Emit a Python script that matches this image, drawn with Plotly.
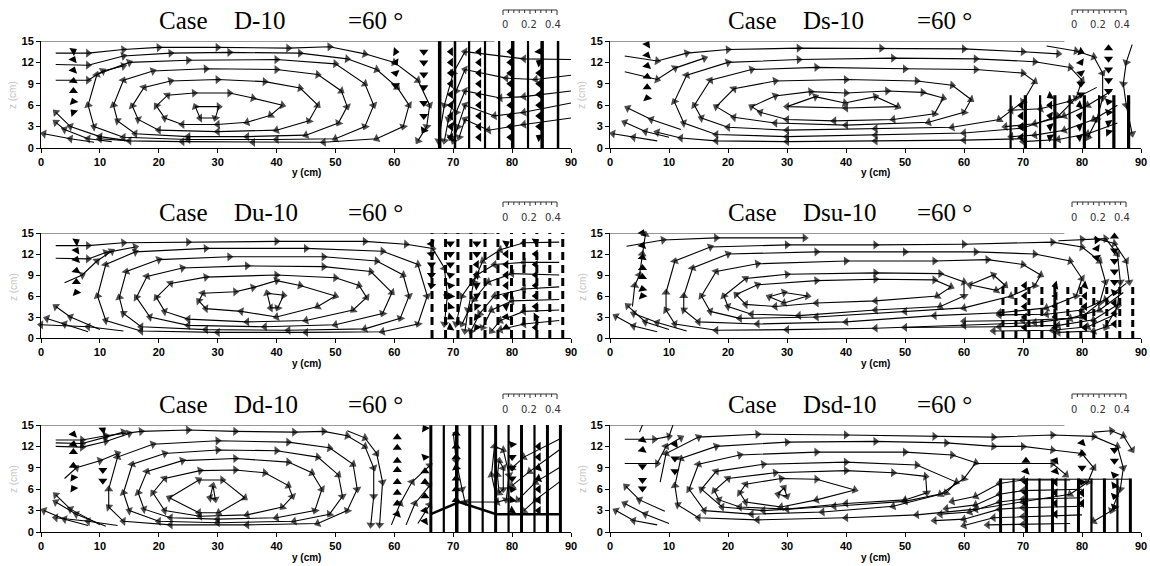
import plotly.graph_objects as go

W, H = 1150, 566

# ------------------------------------------------------------------ data
case_names = ["D-10", "Ds-10", "Du-10", "Dsu-10", "Dd-10", "Dsd-10"]
angle_label = "=60 °"
x_tick_vals = [0, 10, 20, 30, 40, 50, 60, 70, 80, 90]
z_tick_vals = [0, 3, 6, 9, 12, 15]
scale_tick_labels = ["0", "0.2", "0.4"]
scale_minor = [0, 0.04, 0.08, 0.12, 0.16, 0.2, 0.24, 0.28, 0.32, 0.36, 0.4]
free_surface_end = 77  # cm

# ---- streamlines (y, z) in cm
d10_lines = [
    [(26.2, 5.8), (30.2, 5.8), (29.6, 4.2), (27.0, 4.2), (26.2, 5.8)],
    [(19.6, 5.9), (21.5, 7.4), (26, 7.7), (32, 7.7), (36, 7.0), (41, 6.0), (39, 4.6), (35, 3.6), (30, 3.3), (24, 3.3), (21, 4.2), (19.6, 5.9)],
    [(15.5, 5.9), (17.5, 8.5), (22, 9.4), (30, 9.6), (38, 9.3), (44, 8.4), (47, 6.0), (45.5, 3.8), (40, 2.5), (30, 2.3), (20, 2.5), (16.5, 4.0), (15.5, 5.9)],
    [(12.3, 6.0), (14, 9.5), (19, 10.8), (28, 11.1), (40, 11.0), (47, 10.3), (51, 8.0), (52, 5.8), (50.5, 3.5), (45, 1.8), (35, 1.6), (25, 1.6), (16, 2.0), (13, 3.8), (12.3, 6.0)],
    [(8, 6.0), (9.5, 10.3), (15, 12.0), (25, 12.3), (40, 12.4), (50, 11.8), (55, 9.0), (56.5, 6.0), (55, 3.0), (50, 1.3), (40, 1.2), (25, 1.2), (14, 1.5), (9, 3.0), (8, 6.0)],
    [(2.5, 13.3), (8, 13.3), (14, 13.8), (20, 14.1), (30, 14.1), (42, 14.0), (49, 14.2), (55, 13.2), (60, 12.0), (64, 9.5), (66, 6.0), (65.5, 3.0), (64, 1.0)],
    [(2.5, 11.7), (8, 11.6), (14, 12.9), (22, 13.3), (32, 13.4), (44, 13.3), (52, 12.5), (57, 11.0), (60.5, 8.5), (62.5, 6.0), (61.5, 3.0), (57, 1.3), (48, 0.8), (36, 0.8), (24, 0.9), (15, 1.0), (10, 1.3)],
    [(2.5, 9.5), (8, 9.5), (10.5, 10.8), (14, 11.5)],
    [(15, 1.0), (10, 1.6), (5, 3.0), (2.5, 5.0)],
    [(12, 0.9), (8, 1.3), (4, 2.6), (2.5, 3.6)],
    [(9, 0.8), (5, 1.3), (0.5, 2.0)],
    [(90, 12.4), (82, 12.5), (72, 13.5), (70, 10.5), (68.5, 6.0), (67.5, 1.0)],
    [(90, 10.2), (84, 9.6), (79, 9.8), (72, 11.0), (70.5, 8.0), (69.2, 4.0), (68.5, 1.0)],
    [(90, 8.0), (82, 7.2), (78, 7.0), (72, 8.0), (70.5, 5.0), (69.5, 1.5)],
    [(90, 6.3), (82, 5.0), (77, 4.5), (72, 6.0), (70.8, 3.0), (70, 1.0)],
    [(90, 4.2), (82, 3.3), (76, 2.5), (72, 4.0), (71, 1.5)],
]
ds10_lines = [
    [(30, 5.8), (34.8, 7.2), (39.8, 6.3), (45, 7.2), (48.8, 5.8), (40, 5.6), (30, 5.8)],
    [(24, 5.8), (28, 7.3), (34, 7.9), (40, 7.7), (47, 8.0), (53, 7.8), (56.5, 7.0), (55, 4.8), (48, 4.0), (38, 3.8), (30, 4.0), (25.5, 5.0), (24, 5.8)],
    [(18, 5.8), (21, 8.3), (28, 9.4), (40, 9.6), (52, 9.4), (58, 8.8), (61.2, 6.8), (60, 5.0), (54, 3.6), (40, 3.2), (28, 3.5), (21, 4.3), (18, 5.8)],
    [(14.3, 6.0), (17, 9.5), (24, 11.0), (35, 11.3), (50, 11.1), (62, 11.0), (70, 10.5), (72, 9.3), (70, 6.5), (66, 4.0), (58, 2.9), (45, 2.7), (30, 2.5), (20, 2.9), (15.5, 4.2), (14.3, 6.0)],
    [(10.9, 6.5), (13, 10.2), (20, 12.0), (32, 12.4), (48, 12.6), (62, 12.5), (72, 12.1), (78, 11.3), (80, 9.5), (79, 7.0), (76, 4.5), (70, 2.8), (60, 2.1), (45, 1.8), (30, 1.6), (18, 1.9), (12.5, 3.5), (10.9, 6.5)],
    [(2.5, 12.9), (8, 12.2), (13, 13.3), (20, 13.8), (32, 14.0), (46, 14.0), (60, 13.9), (70, 13.5), (76, 13.2)],
    [(74, 14.3), (79, 13.6), (82, 12.8), (83.5, 10.5), (83.5, 7.0), (82.5, 4.0), (81, 1.5)],
    [(2.5, 10.7), (8, 9.6), (11, 11.2), (16, 12.6)],
    [(70, 1.3), (60, 1.1), (45, 1.0), (30, 0.9), (18, 1.0), (12, 1.4), (8, 2.2)],
    [(10, 1.5), (6, 2.3), (2.5, 3.6)],
    [(8, 1.0), (4, 1.5), (0.5, 2.0)],
    [(12, 2.6), (7, 4.0), (3, 5.6)],
    [(86, 3.5), (81, 2.0), (76, 1.2), (70, 0.9)],
    [(86, 6.0), (82, 4.0), (77, 2.5), (72, 1.8), (68, 1.6)],
    [(85, 8.0), (81, 6.0), (77, 4.5), (72, 3.4), (67, 3.0)],
    [(82.5, 8.5), (78, 6.6), (73, 5.5), (68, 5.3)],
    [(88.5, 14.5), (87.5, 12.0), (87, 9.0), (87.5, 6.0), (88.5, 2.0)],
]
du10_lines = [
    [(38.4, 6.4), (41.2, 6.1), (40.2, 4.3), (39, 4.3), (38.4, 6.4)],
    [(26.8, 5.3), (27.5, 6.4), (33, 6.6), (36, 7.2), (40, 8.2), (44, 7.5), (50, 6.0), (47, 4.5), (40, 3.0), (34, 3.8), (28, 4.2), (26.8, 5.3)],
    [(19.6, 5.8), (22, 7.8), (28, 8.7), (40, 9.0), (50, 8.6), (54, 7.5), (55.3, 5.8), (53, 4.0), (45, 2.5), (35, 2.3), (25, 2.7), (21, 3.8), (19.6, 5.8)],
    [(16.2, 5.8), (18, 8.8), (24, 10.0), (35, 10.3), (48, 10.2), (56, 9.5), (59.6, 6.5), (58, 3.5), (50, 1.9), (38, 1.6), (25, 1.8), (18.5, 3.0), (16.2, 5.8)],
    [(13.3, 5.8), (14.5, 9.5), (20, 11.2), (32, 11.6), (48, 11.6), (57, 11.0), (61.5, 9.0), (62.5, 6.0), (61, 2.8), (55, 1.3), (42, 1.1), (28, 1.2), (17, 1.6), (14, 3.5), (13.3, 5.8)],
    [(9.6, 6.0), (11, 10.5), (16, 12.3), (28, 12.8), (45, 12.8), (58, 12.4), (64, 10.5), (65.6, 6.0), (64, 2.0), (58, 0.9), (45, 0.8), (30, 0.8), (17, 1.0), (11, 2.5), (9.6, 6.0)],
    [(2.5, 13.2), (8, 13.2), (14, 13.6), (25, 13.7), (40, 13.8), (55, 13.8), (62, 13.4), (66.5, 12.8), (68.5, 10.0), (69, 6.0), (68.5, 2.0)],
    [(2.5, 11.4), (8, 11.3), (11, 12.2), (16, 13.0)],
    [(4, 7.9), (7, 9.0), (9.5, 11), (12, 12.4)],
    [(10, 1.2), (5, 3.0), (2.5, 4.5)],
    [(8, 0.9), (4, 2.0), (1, 2.8)],
    [(14, 1.0), (8, 1.6), (0, 1.9)],
    [(88, 13.7), (82, 13.6), (78, 12.6), (75, 11.0), (73.5, 8.0), (72.5, 4.0), (72, 1.0)],
    [(88, 10.8), (82, 10.8), (77, 10.5), (74, 9.0), (71.5, 6.0), (70.5, 2.0)],
    [(88, 9.0), (80, 9.2), (76, 8.0), (73.5, 5.5), (71.5, 2.0)],
    [(88, 7.3), (82, 7.0), (77, 6.0), (74.5, 3.5), (73, 1.0)],
    [(88, 5.5), (80, 5.3), (76.5, 4.0), (75, 1.5)],
    [(88, 4.0), (82, 3.8), (78, 2.5), (76.5, 1.0)],
    [(88, 2.5), (82, 2.0), (78, 1.2)],
]
dsu10_lines = [
    [(27, 5.9), (29.5, 6.5), (33.5, 6.0), (29.5, 5.0), (27, 5.9)],
    [(61, 7.6), (65, 9.0), (67, 7.5), (65.5, 6.8), (61, 7.6)],
    [(21.4, 6.2), (25, 7.6), (35, 8.2), (45, 8.4), (55, 8.3), (57.8, 7.3), (55.5, 6.0), (45, 5.3), (35, 5.0), (28, 4.5), (23, 4.8), (21.4, 6.2)],
    [(19.3, 6.0), (23, 8.5), (30, 9.1), (45, 9.3), (56, 9.2), (60, 8.0), (60, 6.0), (56, 4.5), (45, 4.0), (32, 3.2), (24, 3.4), (20, 4.5), (19.3, 6.0)],
    [(15.5, 6.0), (18, 9.5), (25, 10.6), (40, 11.0), (55, 11.0), (64, 11.2), (70, 10.5), (73, 9.0), (72, 7.5), (68, 6.0), (60, 4.3), (50, 3.8), (35, 3.0), (22, 2.8), (17, 3.8), (15.5, 6.0)],
    [(12.5, 6.0), (14, 10.0), (20, 12.0), (35, 12.3), (50, 12.3), (62, 12.3), (72, 12.0), (78, 11.0), (80, 8.5), (79, 6.0), (74, 4.3), (66, 3.6), (55, 3.2), (40, 2.3), (25, 2.0), (15, 2.3), (12.5, 4.0), (12.5, 6.0)],
    [(9.5, 6.5), (11, 11.0), (17, 13.0), (30, 13.3), (45, 13.3), (60, 13.4), (75, 13.7), (80, 13.0), (83, 11.0), (84, 8.0), (83, 5.0), (80, 3.0), (72, 2.2), (60, 1.8), (45, 1.4), (30, 1.2), (18, 1.1), (11, 2.0), (9.5, 4.0), (9.5, 6.5)],
    [(2.8, 13.1), (9, 14.0), (18, 14.3), (33, 14.3)],
    [(3.8, 4.5), (4.2, 7.5), (5, 9.0), (5.5, 12.0), (6, 14.8)],
    [(76, 13.9), (80, 14.1), (84, 14.2), (86, 12.0), (86.5, 8.0), (86, 4.5), (84, 1.5)],
    [(82, 14.3), (85.5, 13.5), (87.5, 11.0), (88, 8.0)],
    [(10, 1.2), (6, 2.3), (3, 4.6)],
    [(8, 0.9), (4, 1.7), (1, 3.1)],
    [(13, 1.0), (8, 2.2), (4, 3.5)],
    [(87.5, 7.8), (84, 5.5), (80, 4.0), (74, 3.4), (66, 3.3)],
    [(87, 6.5), (83, 4.0), (78, 2.8), (70, 2.5), (60, 2.4)],
    [(86.5, 5.0), (82, 2.6), (76, 1.8), (66, 1.6), (50, 1.5)],
    [(86, 3.5), (81, 1.6), (75, 1.1), (65, 1.0)],
    [(85.5, 2.0), (82, 1.0), (76, 0.8)],
]
dd10_lines = [
    [(28.7, 4.8), (29.2, 6.5), (29.6, 4.6), (28.7, 4.8)],
    [(21.8, 4.8), (26.8, 7.3), (30.8, 7.3), (34.6, 4.8), (30.2, 2.7), (26.8, 2.7), (21.8, 4.8)],
    [(19, 5.5), (21, 7.5), (27, 8.6), (33, 8.7), (38, 8.3), (42, 6.5), (42.7, 5.0), (41, 3.5), (35, 2.4), (27, 2.2), (21, 3.0), (19, 5.5)],
    [(16.5, 5.5), (18, 8.5), (24, 10.0), (33, 10.3), (42, 9.8), (46, 8.3), (47.7, 6.0), (46.5, 3.0), (40, 2.0), (30, 1.8), (22, 2.0), (17.5, 3.2), (16.5, 5.5)],
    [(14, 5.5), (15.5, 9.5), (21, 11.0), (30, 11.5), (40, 11.4), (47, 10.5), (50.5, 8.0), (51.2, 5.0), (49, 2.5), (43, 1.5), (30, 1.3), (20, 1.5), (15, 3.0), (14, 5.5)],
    [(11.5, 6.0), (13, 10.5), (19, 12.3), (30, 12.8), (42, 12.6), (49, 11.8), (53, 9.5), (53.7, 6.0), (52, 3.0), (47, 1.2), (35, 1.0), (22, 1.0), (14, 1.5), (11.5, 3.5), (11.5, 6.0)],
    [(2.5, 12.9), (7, 12.9), (11, 13.5), (17, 14.1), (25, 14.3), (33, 14.1), (43, 14.0), (48, 14.1), (52, 13.5), (55, 12.0), (56.5, 9.0), (56.5, 5.0), (56, 1.0)],
    [(52, 14.2), (55, 13.2), (57, 11.0), (58, 7.0), (57.5, 1.0)],
    [(2.5, 12.5), (7, 12.4), (11, 13.3), (14, 14.0)],
    [(2.5, 12.0), (7, 11.9), (11, 12.7), (15, 13.8)],
    [(4, 7.5), (6, 9.0), (10, 10.0), (13, 11.0)],
    [(10, 1.0), (5, 3.2), (2.5, 5.2)],
    [(11, 0.8), (6, 2.5), (2.5, 4.2)],
    [(8, 0.9), (4, 1.8), (0.5, 3.0)],
    [(13, 0.9), (8, 1.5), (2.5, 2.0)],
    [(59.5, 1.0), (61, 4.0), (63, 7.0), (66, 9.3)],
    [(62, 1.0), (63.5, 4.0), (66, 6.5)],
    [(64, 1.2), (66, 3.8)],
    [(77.5, 8.0), (77.8, 10.0), (78.5, 9.0), (78.5, 6.0), (77.8, 5.5), (77.5, 8.0)],
    [(76.5, 8.0), (77, 12.0), (78.5, 11.5), (79.5, 8.0), (79, 4.5), (77.5, 4.2), (76.5, 8.0)],
    [(70, 14.0), (70.5, 10.0), (71.5, 6.0), (72, 4.2)],
    [(88, 13.0), (82, 10.5), (80, 9.0)],
    [(88, 11.5), (83, 8.5), (80, 6.5)],
    [(88, 9.0), (84, 7.0), (81, 4.5)],
    [(88, 7.0), (84, 4.5), (82, 3.0)],
]
dsd10_lines = [
    [(28.5, 5.3), (29.5, 6.2), (30, 5.0), (28.5, 5.3)],
    [(22, 5.5), (23, 6.7), (29, 7.5), (35, 7.4), (41.5, 5.9), (35, 4.5), (29, 3.5), (23, 4.2), (22, 5.5)],
    [(17.7, 5.8), (20, 7.5), (28, 8.3), (40, 8.6), (48, 8.3), (53.5, 7.8), (53.7, 5.5), (50, 4.5), (40, 4.0), (30, 3.2), (22, 3.5), (18.5, 4.5), (17.7, 5.8)],
    [(15.5, 6.0), (18, 8.5), (26, 9.5), (40, 9.8), (52, 9.4), (58.7, 7.0), (57, 5.5), (50, 4.3), (38, 3.6), (26, 3.0), (19, 3.5), (15.5, 6.0)],
    [(13.4, 6.0), (15, 9.5), (22, 10.8), (35, 11.2), (50, 11.2), (58, 10.8), (62, 9.7), (60, 7.5), (56, 5.3), (48, 3.6), (36, 2.8), (24, 2.5), (16, 3.0), (13.4, 6.0)],
    [(11, 6.5), (12, 10.3), (18, 12.0), (30, 12.6), (45, 12.7), (57, 12.5), (65, 12.0), (70, 12.0), (75, 11.5), (80, 11.0), (82, 9.0), (81, 7.0), (78, 5.3), (70, 4.2), (62, 3.2), (52, 2.4), (40, 2.0), (25, 1.7), (15, 2.0), (11.5, 3.8), (11, 6.5)],
    [(8.5, 7.0), (9.5, 11.0), (15, 13.3), (25, 13.7), (40, 13.6), (55, 13.4), (65, 13.3), (75, 13.6), (82, 13.4), (86, 12.0), (87, 9.0), (86.5, 6.0), (85, 3.0), (82, 1.5)],
    [(62, 9.6), (75, 9.6), (77.3, 8.0)],
    [(2.5, 13.0), (7.5, 13.0), (10, 13.4), (11, 15.8)],
    [(5, 14.0), (6, 16.0)],
    [(2.5, 9.6), (8, 9.6), (9.5, 12.0), (12, 13.2)],
    [(10, 1.2), (6, 2.5), (2.5, 4.0)],
    [(8, 1.0), (4, 1.6), (1, 3.0)],
    [(9.3, 2.9), (5, 4.5), (2.7, 6.4)],
    [(78, 7.3), (70, 7.3), (66, 6.8), (62, 5.0), (58, 4.3)],
    [(80, 6.0), (70, 5.8), (66, 5.3), (62, 3.8), (57, 3.3)],
    [(80, 4.8), (70, 4.6), (66, 4.2), (61, 2.8), (56, 2.5)],
    [(80, 3.6), (70, 3.4), (66, 3.2), (60, 1.8), (55, 1.6)],
    [(80, 2.4), (70, 2.2), (65, 2.0), (60, 0.9)],
    [(78, 1.2), (70, 1.1), (64, 1.0)],
    [(82, 14.0), (85, 14.2), (87, 13.5), (88.5, 11.5)],
]

# ---- velocity vector columns: (y, [z...], [direction deg clockwise from up])
d10_vecs = [
    (5.5, [13.6, 12.4, 10.9, 9.4, 8.0, 6.5, 5.0], [60, 25, 20, 5, 0, 340, 315]),
    (60.2, [13.5, 12.0, 10.5, 8.8], [95, 150, 165, 180]),
    (65.0, [13.5, 12.0, 10.3, 8.5, 6.3, 4.5, 2.5], [180, 180, 180, 180, 180, 180, 210]),
    (69.6, [1.5, 3, 4.5, 6, 7.5, 9, 10.5, 12, 13.5], [270, 270, 270, 270, 270, 270, 270, 270, 270]),
    (74.4, [1.5, 3, 4.5, 6, 7.5, 9, 10.5, 12, 13.5], [270, 270, 270, 270, 270, 270, 270, 270, 270]),
    (79.7, [1.5, 3, 4.5, 6, 7.5, 9, 10.5, 12, 13.5], [270, 270, 270, 270, 270, 270, 270, 270, 270]),
    (84.6, [1.5, 3, 4.5, 6, 7.5, 9, 10.5, 12, 13.5], [300, 270, 270, 270, 270, 270, 270, 300, 20]),
]
ds10_vecs = [
    (6.3, [14.5, 13.0, 11.5, 10.0, 8.5, 7.0], [30, 20, 15, 5, 0, 345]),
    (79.8, [13.5, 12.0, 10.5, 9.0, 7.5], [110, 150, 170, 180, 180]),
    (84.5, [14.0, 12.5, 11.0, 9.5, 8.0, 6.5, 5.0, 3.5, 2.2], [0, 180, 180, 180, 180, 200, 200, 300, 320]),
    (69.7, [1.5, 3, 4.5, 6], [270, 270, 270, 270]),
    (74.6, [1.5, 3, 4.5, 6, 7.3], [300, 290, 280, 270, 240]),
    (79.6, [1.5, 3, 4.5, 6], [290, 290, 280, 250]),
]
du10_vecs = [
    (6.0, [13.8, 12.5, 11.2, 9.6, 8.0, 6.5], [60, 30, 20, 10, 0, 340]),
    (66.3, [13.5, 12.0, 10.5, 9.0, 7.5], [150, 170, 180, 180, 190]),
    (69.5, [13.5, 12, 10.5, 9, 7.5, 6, 4.5, 3, 1.5], [180, 180, 180, 190, 200, 210, 220, 230, 240]),
    (74.0, [13.5, 12, 10.5, 9, 7.5, 6, 4.5, 3, 1.5], [180, 180, 270, 280, 300, 300, 320, 330, 330]),
    (79.0, [13.5, 12, 10.5, 9, 7.5, 6, 4.5, 3, 1.5], [60, 270, 270, 270, 270, 280, 290, 20, 0]),
    (84.0, [13.8, 12, 10.5, 9, 7.5, 6, 4.5, 3, 1.5], [60, 270, 270, 270, 270, 270, 270, 90, 270]),
]
dsu10_vecs = [
    (5.5, [15.0, 13.2, 11.5, 10.0, 8.7, 7.0, 6.0], [20, 20, 10, 0, 0, 350, 340]),
    (70.3, [1.5, 3, 4.5, 6, 7.5], [270, 270, 270, 270, 270]),
    (75.5, [1.5, 3, 4.5, 6, 7.5], [270, 270, 270, 270, 260]),
    (80.5, [1.5, 3, 4.5, 6, 7.5], [270, 270, 270, 270, 250]),
    (85.5, [14.5, 12.5, 11, 9.5, 8, 6.5, 5, 3.5, 2], [0, 180, 180, 180, 180, 200, 270, 270, 270]),
    (82.5, [14.0, 12.8, 11.5], [90, 150, 170]),
]
dd10_vecs = [
    (5.5, [15.8, 13.7, 12.3, 11.2, 9.3, 7.6, 6.1], [15, 20, 10, 0, 0, 330, 330]),
    (10.5, [14.3, 8.7, 7.2], [50, 180, 180]),
    (60.5, [13.3, 11.8, 10.0, 8.7, 7.0, 5.5, 4.0, 2.5], [0, 0, 0, 0, 0, 0, 0, 20]),
    (65.2, [14.5, 10.5, 8.5, 7.0, 5.0, 3.0, 1.5], [330, 200, 0, 0, 0, 20, 30]),
    (70.5, [13.8, 12.0, 10.5, 9.0, 7.5, 6.0, 4.5], [0, 0, 0, 350, 0, 0, 0]),
    (76.2, [15.8], [10]),
    (80.0, [12.3, 10.5, 9.0, 7.5, 6.0, 4.5, 3.0], [200, 180, 180, 180, 200, 220, 240]),
    (84.5, [12.0, 10.5, 9.0, 7.5, 6.0, 4.5, 3.0], [270, 270, 250, 250, 270, 270, 270]),
]
dsd10_vecs = [
    (5.5, [17.3, 12.9, 11.5, 9.2, 7.3, 6.1], [10, 10, 10, 180, 180, 180]),
    (11.0, [17.2, 12.3, 10.3, 8.5], [20, 30, 180, 180]),
    (70.5, [10.0, 8.5, 7.0, 5.5, 4.0], [0, 20, 270, 270, 270]),
    (75.5, [10.0, 8.5, 7.0, 5.5, 4.0, 2.5], [30, 20, 270, 270, 270, 270]),
    (80.0, [12.5, 11.0, 9.0, 7.0, 5.5, 4.0], [20, 0, 180, 200, 270, 270]),
    (85.5, [11.5, 10.0, 8.0, 6.5, 5.0, 3.5], [180, 180, 200, 210, 200, 200]),
]

# ---- vegetation stems
d10_stems = [67.7, 70.3, 72.7, 75.4, 77.8, 80.1, 82.7, 85.1, 87.8]
d10_stem_w = [3.5, 2.5, 2.2, 2.2, 2.2, 3.5, 2.2, 3.5, 2.5]
ds10_stems = [67.9, 70.4, 72.9, 75.4, 77.9, 80.4, 82.9, 85.4, 87.9]
ds10_stem_w = [2.2, 3.2, 2.2, 3.2, 2.2, 3.2, 2.2, 3.2, 3.2]
du10_stems = [66.4, 68.7, 70.8, 73.0, 75.4, 77.6, 79.9, 82.0, 84.2, 86.4, 88.6]
du10_stem_w = [3, 3, 3, 3, 3, 3, 3, 3, 3, 3, 3]
dsu10_stems = [66.6, 68.8, 71.0, 73.2, 75.4, 77.6, 79.8, 82.0, 84.2, 86.4, 88.6]
dsu10_stem_w = [3, 3, 3, 3, 3, 3, 3, 3, 3, 3, 3]
dd10_stems = [66.2, 68.4, 70.6, 72.8, 75.0, 77.2, 79.4, 81.6, 83.8, 86.0, 88.2]
dd10_stem_w = [3, 2.2, 3.5, 3, 2.2, 3, 2.2, 3, 2.2, 3, 3]
dsd10_stems = [66.2, 68.4, 70.6, 72.8, 75.0, 77.2, 79.4, 81.6, 83.8, 86.0, 88.2]
dsd10_stem_w = [3, 2.2, 3, 2.2, 3, 2.2, 3, 2.2, 3, 2.2, 3]

# extra lines drawn without arrows (bed-form line, canopy line)
dd10_extra = [[(66.2, 2.5), (71, 4.2), (77.3, 2.5), (88, 2.5)], [(71, 4.2), (77.3, 4.2)]]
dd10_extra_w = [2.5, 1]
dsd10_extra = [[(66.2, 7.4), (88.2, 7.4)]]
dsd10_extra_w = [1]

panels = [
    dict(lines=d10_lines, vecs=d10_vecs, stems=d10_stems, stem_w=d10_stem_w, top=15.2, dash=None, extra=[], extra_w=[]),
    dict(lines=ds10_lines, vecs=ds10_vecs, stems=ds10_stems, stem_w=ds10_stem_w, top=7.4, dash=None, extra=[], extra_w=[]),
    dict(lines=du10_lines, vecs=du10_vecs, stems=du10_stems, stem_w=du10_stem_w, top=15.0, dash="8px,5px", extra=[], extra_w=[]),
    dict(lines=dsu10_lines, vecs=dsu10_vecs, stems=dsu10_stems, stem_w=dsu10_stem_w, top=7.8, dash="7px,4px", extra=[], extra_w=[]),
    dict(lines=dd10_lines, vecs=dd10_vecs, stems=dd10_stems, stem_w=dd10_stem_w, top=15.0, dash=None, extra=dd10_extra, extra_w=dd10_extra_w),
    dict(lines=dsd10_lines, vecs=dsd10_vecs, stems=dsd10_stems, stem_w=dsd10_stem_w, top=7.5, dash=None, extra=dsd10_extra, extra_w=dsd10_extra_w),
]

# ------------------------------------------------------------------ layout geometry (window px)
COL_PX = [(41, 571), (610, 1141)]
ROW_PX = [(41, 148), (233, 338), (425, 532)]


def px(xp, yp):
    """window pixel -> paper fraction"""
    return xp / W, 1 - yp / H


fig = go.Figure()
shapes = []
annotations = []
tickfont = dict(family="Liberation Sans", size=11, color="black", weight="bold")

for i, p in enumerate(panels):
    r, c = divmod(i, 2)
    k = i + 1
    sfx = "" if k == 1 else str(k)
    xa, ya = "x" + sfx, "y" + sfx
    x0p, x1p = COL_PX[c]
    y0p, y1p = ROW_PX[r]
    dx0, dy_top = px(x0p, y0p)
    dx1, dy_bot = px(x1p, y1p)
    fig.update_layout(**{
        "xaxis" + sfx: dict(domain=[dx0, dx1], anchor=ya, range=[0, 90],
                            tickvals=x_tick_vals, ticks="outside", ticklen=4, tickwidth=1,
                            tickcolor="black", showline=True, linecolor="black", linewidth=1,
                            showgrid=False, zeroline=False, tickfont=tickfont, automargin=False),
        "yaxis" + sfx: dict(domain=[dy_bot, dy_top], anchor=xa, range=[0, 15],
                            tickvals=z_tick_vals, ticks="outside", ticklen=4, tickwidth=1,
                            tickcolor="black", showline=True, linecolor="black", linewidth=1,
                            showgrid=False, zeroline=False, tickfont=tickfont, automargin=False),
    })

    # free surface line
    shapes.append(dict(type="line", xref=xa, yref=ya, x0=0, x1=free_surface_end, y0=15, y1=15,
                       line=dict(color="#333333", width=1)))

    # vegetation stems
    for pos, w in zip(p["stems"], p["stem_w"]):
        fig.add_trace(go.Scatter(x=[pos, pos], y=[0, p["top"]], mode="lines",
                                 line=dict(color="black", width=w, dash=p["dash"] or "solid"),
                                 xaxis=xa, yaxis=ya, hoverinfo="skip", showlegend=False,
                                 cliponaxis=False))
    for ln, w in zip(p["extra"], p["extra_w"]):
        fig.add_trace(go.Scatter(x=[q[0] for q in ln], y=[q[1] for q in ln], mode="lines",
                                 line=dict(color="black", width=w), xaxis=xa, yaxis=ya,
                                 hoverinfo="skip", showlegend=False))

    # streamlines with arrow heads at vertices
    for ln in p["lines"]:
        n = len(ln)
        fig.add_trace(go.Scatter(
            x=[q[0] for q in ln], y=[q[1] for q in ln], mode="lines+markers",
            line=dict(color="black", width=1.1),
            marker=dict(symbol="triangle-up", size=[0] + [8] * (n - 1), color="black",
                        angleref="previous", line=dict(width=0)),
            xaxis=xa, yaxis=ya, hoverinfo="skip", showlegend=False, cliponaxis=False))

    # velocity vectors
    vy, vz, va = [], [], []
    for cy, czs, cas in p["vecs"]:
        for zz, aa in zip(czs, cas):
            vy.append(cy)
            vz.append(zz)
            va.append(aa)
    fig.add_trace(go.Scatter(x=vy, y=vz, mode="markers",
                             marker=dict(symbol="triangle-up", size=8, color="black", angle=va,
                                         line=dict(width=0)),
                             xaxis=xa, yaxis=ya, hoverinfo="skip", showlegend=False,
                             cliponaxis=False))

    # title
    for txt, dx in (("Case", 116), (case_names[i], 191), (angle_label, 305)):
        xx, yy = px(x0p + dx, y0p - 21)
        annotations.append(dict(text=txt, xref="paper", yref="paper", x=xx, y=yy,
                                xanchor="left", yanchor="middle", showarrow=False,
                                font=dict(family="Liberation Serif", size=25, color="black")))

    # scale bar
    bx0 = x0p + 462
    bw = 54
    by = y0p - 31
    a, b = px(bx0, by)
    a2, _ = px(bx0 + bw, by)
    shapes.append(dict(type="line", xref="paper", yref="paper", x0=a, x1=a2, y0=b, y1=b,
                       line=dict(color="#333333", width=1)))
    for j, v in enumerate(scale_minor):
        tx = bx0 + bw * v / scale_minor[-1]
        tl = 5 if j in (0, len(scale_minor) - 1) else (4 if j == 5 else 3)
        xx, yy0 = px(tx, by)
        _, yy1 = px(tx, by + tl)
        shapes.append(dict(type="line", xref="paper", yref="paper", x0=xx, x1=xx, y0=yy0, y1=yy1,
                           line=dict(color="#333333", width=1)))
    for lab, dx in zip(scale_tick_labels, (2, 26, 50)):
        xx, yy = px(bx0 + dx, y0p - 16)
        annotations.append(dict(text=lab, xref="paper", yref="paper", x=xx, y=yy,
                                xanchor="center", yanchor="middle", showarrow=False,
                                font=dict(family="DejaVu Sans", size=10, color="#333333")))

    # axis titles
    xx, yy = px((x0p + x1p) / 2, y1p + 25)
    annotations.append(dict(text="y (cm)", xref="paper", yref="paper", x=xx, y=yy,
                            xanchor="center", yanchor="middle", showarrow=False,
                            font=dict(family="Liberation Sans", size=10, color="black", weight="bold")))
    xx, yy = px(x0p - 28, y0p + 54)
    annotations.append(dict(text="z (cm)", xref="paper", yref="paper", x=xx, y=yy,
                            xanchor="center", yanchor="middle", showarrow=False, textangle=-90,
                            font=dict(family="Liberation Sans", size=10, color="#c4c4c4")))

fig.update_layout(width=W, height=H,
                  margin=dict(l=0, r=0, t=0, b=0, pad=0, autoexpand=False),
                  paper_bgcolor="white", plot_bgcolor="white", showlegend=False,
                  hovermode=False, shapes=shapes, annotations=annotations)

# remove the browser's default page margin so the 1150x566 figure fills the window
fig.write_html("out.html",
               config={"displayModeBar": False, "staticPlot": True},
               post_script="document.body.style.margin='0px';document.body.style.overflow='hidden';")
